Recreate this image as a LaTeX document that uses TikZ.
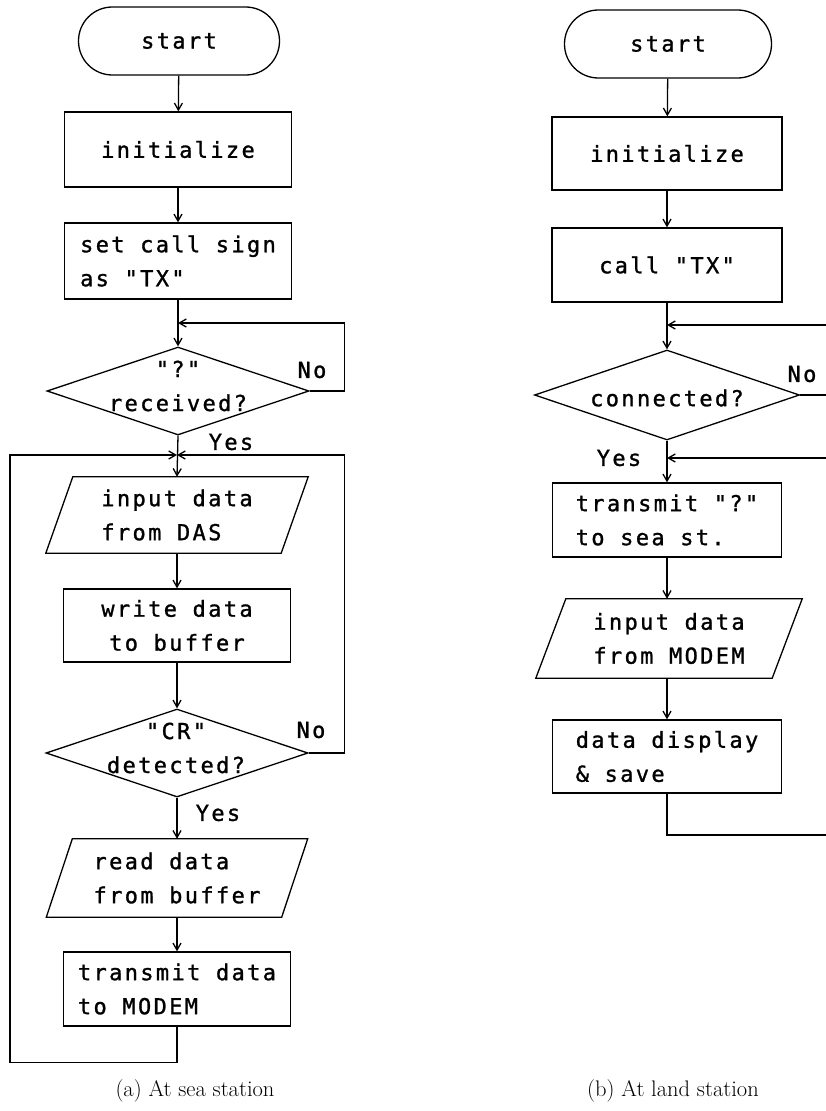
\documentclass[tikz,border=0pt]{standalone}
\usepackage{fontspec}
\newfontfamily\flfont[LetterSpace=10.7,FakeBold=1.2]{DejaVu Sans Mono}
\usetikzlibrary{shapes.geometric,arrows.meta,calc}
\tikzset{
  ln/.style={line width=1.3pt},
  arr/.style={ln,-{Straight Barb[length=7pt,width=8pt]}},
  txt/.style={font=\flfont\fontsize{22}{34}\selectfont,inner sep=0pt},
  box/.style={txt,draw,ln,rectangle,minimum width=227pt},
  term/.style={txt,draw,ln,rectangle,rounded corners=33.9pt},
  dia/.style={draw,ln,diamond,inner sep=0pt,minimum width=262pt,minimum height=88pt},
  para/.style={txt,rectangle,minimum width=235pt},
  captxt/.style={font=\fontsize{22.5}{26}\selectfont,inner sep=0pt}
}
\newcommand\paraframe[2]{%
  \draw[ln] ($(#1.north west)+(#2,0)$) -- ($(#1.north east)+(#2,0)$)
    -- ($(#1.south east)-(#2,0)$) -- ($(#1.south west)-(#2,0)$) -- cycle;}
\begin{document}
\begin{tikzpicture}[x=1pt,y=-1pt]
\useasboundingbox (0,0) rectangle (826,1111);
\fill[white] (0,0) rectangle (826,1111);

% ---------------- (a) sea station ----------------
\node[term,minimum width=201pt,minimum height=68pt] (s1) at (179,41) {start};
\node[box,minimum height=75pt] (i1) at (178,149.5) {initialize};
\node[box,align=left,minimum height=76pt] (c1) at (178,261) {set call sign\\as "TX"};
\node[dia] (d1) at (178,391) {};
\node[txt,align=center] (d1t) at (178,386) {"?"\\received?};
\node[para,align=left,minimum height=76pt] (in1) at (177,515) {input data\\from DAS};
\paraframe{in1}{13.5}
\node[box,align=center,minimum height=73pt] (wr1) at (177,625.5) {write data\\to buffer};
\node[dia] (d2) at (177,753) {};
\node[txt,align=center] (d2t) at (176,748) {"CR"\\detected?};
\node[para,align=left,minimum height=78pt] (rd1) at (177,878) {read data\\from buffer};
\paraframe{rd1}{13}
\node[box,align=left,minimum height=74pt] (tx1) at (177,989) {transmit data\\to MODEM};

\coordinate (m1) at (178,323);
\coordinate (m2) at (177,455);

\draw[arr] (s1) -- (i1);
\draw[arr] (i1) -- (c1);
\draw[arr] (c1.south) -- (d1.north);
\draw[arr] (d1.east) -- ++(35,0) |- (m1);
\draw[arr] (d1.south) -- (in1.north);
\draw[arr] (tx1.south) -- ++(0,36) -- ++(-167,0) |- (m2);
\draw[arr] (d2.east) -- ++(36,0) |- (m2);
\draw[arr] (in1) -- (wr1);
\draw[arr] (wr1.south) -- (d2.north);
\draw[arr] (d2.south) -- (rd1.north);
\draw[arr] (rd1) -- (tx1);

\node[txt] (no1) at (312,370) {No};
\node[txt] (yes1) at (231,442) {Yes};
\node[txt] (no2) at (311,730) {No};
\node[txt] (yes2) at (218,813) {Yes};

% ---------------- (b) land station ----------------
\node[term,minimum width=207pt,minimum height=68pt] (s2) at (668,44) {start};
\node[box,minimum width=230pt,minimum height=73pt] (i2) at (667,153.5) {initialize};
\node[box,minimum width=230pt,minimum height=74pt] (c2) at (667,265) {call "TX"};
\node[dia,minimum width=265pt,minimum height=90pt] (d3) at (667,395) {};
\node[txt] (d3t) at (667,398) {connected?};
\node[box,align=left,minimum width=229pt,minimum height=74pt] (t2) at (667,520) {transmit "?"\\to sea st.};
\node[para,align=left,minimum width=236pt,minimum height=79pt] (in2) at (669,638.5) {input data\\from MODEM};
\paraframe{in2}{15}
\node[box,align=left,minimum width=229pt,minimum height=73pt] (dd2) at (667,756.5) {data display\\\& save};

\coordinate (m3) at (667,325);
\coordinate (m4) at (667,458);
\coordinate (r1) at (827,395);
\coordinate (r2) at (827,325);
\coordinate (r3) at (827,458);
\coordinate (r4) at (827,835);

\draw[arr] (s2) -- (i2);
\draw[arr] (i2) -- (c2);
\draw[arr] (c2.south) -- (d3.north);
\draw[ln] (d3.east) -- (r1);
\draw[arr] (r2) -- (m3);
\draw[arr] (r3) -- (m4);
\draw[arr] (d3.south) -- (t2.north);
\draw[arr] (t2.south) -- (t2.south |- in2.north);
\draw[arr] (in2.south -| dd2.north) -- (dd2.north);
\draw[ln] (dd2.south) |- (r4);

\node[txt] (no3) at (802,374) {No};
\node[txt] (yes3) at (619,458) {Yes};

% captions
\node[captxt] (ca) at (195,1091) {(a) At sea station};
\node[captxt] (cb) at (673,1091) {(b) At land station};
\end{tikzpicture}
\end{document}
